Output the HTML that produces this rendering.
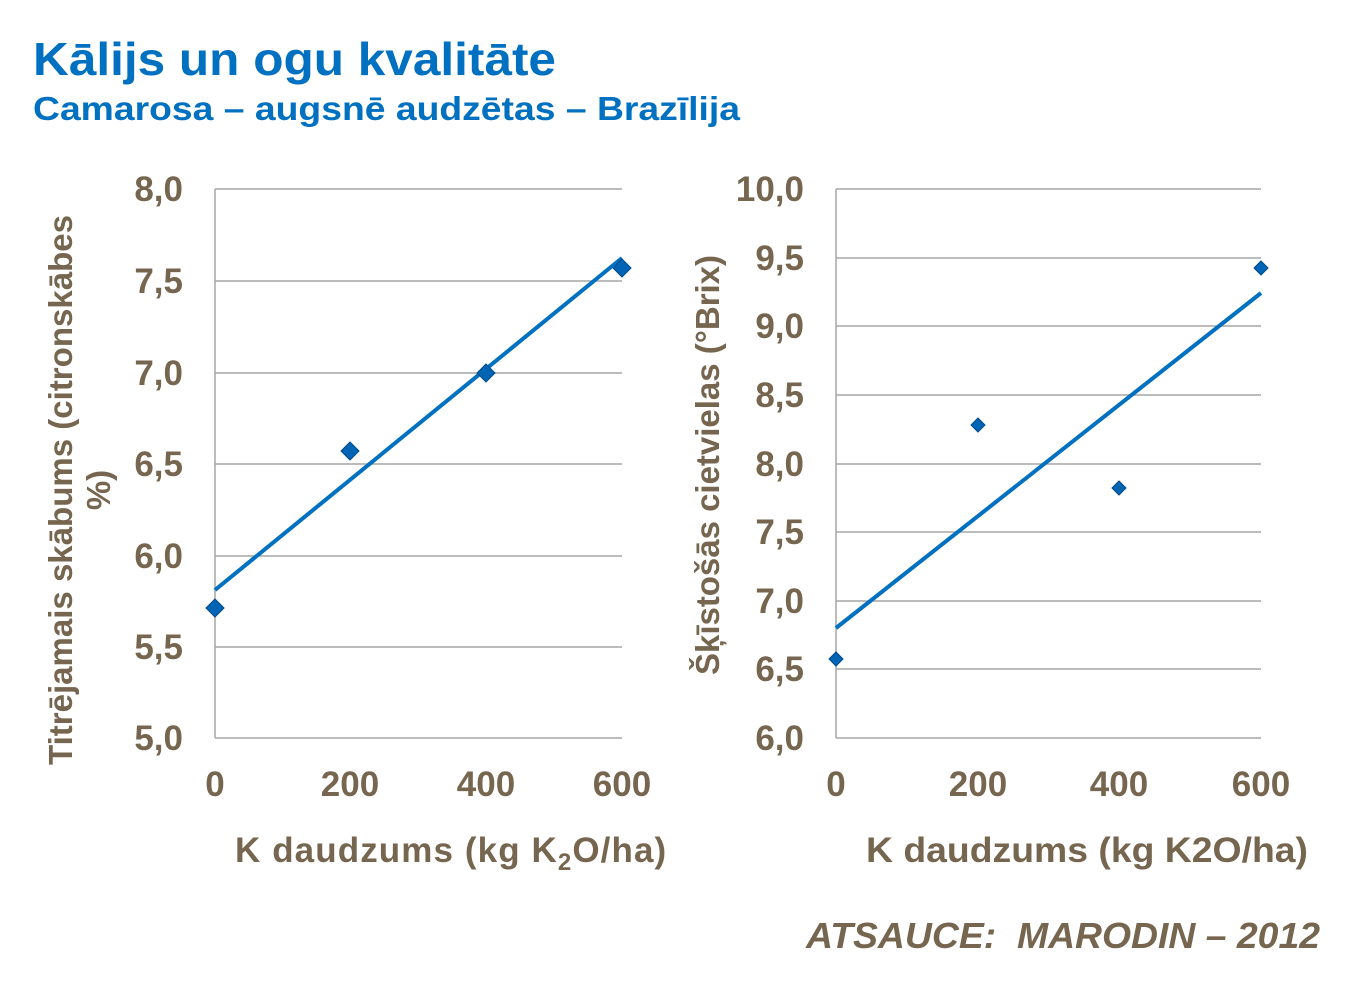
<!DOCTYPE html>
<html><head><meta charset="utf-8"><style>
html,body{margin:0;padding:0;background:#fff;}
svg{display:block;font-family:"Liberation Sans",Arial,sans-serif;}
</style></head><body>
<svg width="1345" height="982" viewBox="0 0 1345 982" xmlns="http://www.w3.org/2000/svg">
<text x="33" y="75" font-size="46" font-weight="bold" fill="#0070c0" textLength="523" lengthAdjust="spacingAndGlyphs">Kālijs un ogu kvalitāte</text>
<text x="33" y="120" font-size="33" font-weight="bold" fill="#0070c0" textLength="707" lengthAdjust="spacingAndGlyphs">Camarosa – augsnē audzētas – Brazīlija</text>

<g stroke="#a6a6a6" stroke-width="1.5">
<line x1="215" x2="622" y1="189" y2="189"/><line x1="215" x2="622" y1="281" y2="281"/>
<line x1="215" x2="622" y1="373" y2="373"/><line x1="215" x2="622" y1="464" y2="464"/>
<line x1="215" x2="622" y1="556" y2="556"/><line x1="215" x2="622" y1="647" y2="647"/>
<line x1="215" x2="622" y1="738" y2="738"/><line x1="215" x2="215" y1="189" y2="738"/>
<line x1="836" x2="1261" y1="189" y2="189"/><line x1="836" x2="1261" y1="258" y2="258"/>
<line x1="836" x2="1261" y1="326" y2="326"/><line x1="836" x2="1261" y1="395" y2="395"/>
<line x1="836" x2="1261" y1="464" y2="464"/><line x1="836" x2="1261" y1="532" y2="532"/>
<line x1="836" x2="1261" y1="601" y2="601"/><line x1="836" x2="1261" y1="669" y2="669"/>
<line x1="836" x2="1261" y1="738" y2="738"/><line x1="836" x2="836" y1="189" y2="738"/>
</g>

<g font-size="35" font-weight="bold" fill="#76664f" text-anchor="end">
<text x="183" y="201">8,0</text><text x="183" y="293">7,5</text><text x="183" y="385">7,0</text>
<text x="183" y="476">6,5</text><text x="183" y="568">6,0</text><text x="183" y="659">5,5</text>
<text x="183" y="750">5,0</text>
<text x="804" y="201">10,0</text><text x="804" y="270">9,5</text><text x="804" y="338">9,0</text>
<text x="804" y="407">8,5</text><text x="804" y="476">8,0</text><text x="804" y="544">7,5</text>
<text x="804" y="613">7,0</text><text x="804" y="681">6,5</text><text x="804" y="750">6,0</text>
</g>
<g font-size="35" font-weight="bold" fill="#76664f" text-anchor="middle">
<text x="215" y="796">0</text><text x="350" y="796">200</text><text x="486" y="796">400</text><text x="622" y="796">600</text>
<text x="836" y="796">0</text><text x="978" y="796">200</text><text x="1119" y="796">400</text><text x="1261" y="796">600</text>
</g>

<g font-size="33" font-weight="bold" fill="#76664f" text-anchor="middle">
<text transform="translate(72,490) rotate(-90)" textLength="550" lengthAdjust="spacingAndGlyphs">Titrējamais skābums (citronskābes</text>
<text transform="translate(110,490) rotate(-90)">%)</text>
<text transform="translate(719,465) rotate(-90)" textLength="420" lengthAdjust="spacingAndGlyphs">Šķīstošās cietvielas (°Brix)</text>
</g>
<g font-size="35" font-weight="bold" fill="#76664f">
<text x="235" y="862" letter-spacing="1.1">K daudzums (kg K<tspan font-size="24" dy="8">2</tspan><tspan dy="-8">O/ha)</tspan></text>
<text x="866" y="862" textLength="442" lengthAdjust="spacingAndGlyphs">K daudzums (kg K2O/ha)</text>
</g>

<line x1="215" y1="590" x2="622" y2="258" stroke="#0070c0" stroke-width="4"/>
<line x1="836" y1="628" x2="1261" y2="293" stroke="#0070c0" stroke-width="4"/>
<g fill="#0064b4" stroke="#004a8a" stroke-width="1">
<path d="M215 599 l9 9 l-9 9 l-9 -9z"/><path d="M350 442 l9 9 l-9 9 l-9 -9z"/>
<path d="M486 364 l9 9 l-9 9 l-9 -9z"/><path d="M622 259 l9 9 l-9 9 l-9 -9z"/>
<path d="M836 652 l7 7 l-7 7 l-7 -7z"/><path d="M978 418 l7 7 l-7 7 l-7 -7z"/>
<path d="M1119 481 l7 7 l-7 7 l-7 -7z"/><path d="M1261 261 l7 7 l-7 7 l-7 -7z"/>
</g>

<text x="806" y="948" font-size="36" font-weight="bold" font-style="italic" fill="#76664f" textLength="514" lengthAdjust="spacingAndGlyphs" xml:space="preserve">ATSAUCE:  MARODIN – 2012</text>
</svg>
</body></html>
